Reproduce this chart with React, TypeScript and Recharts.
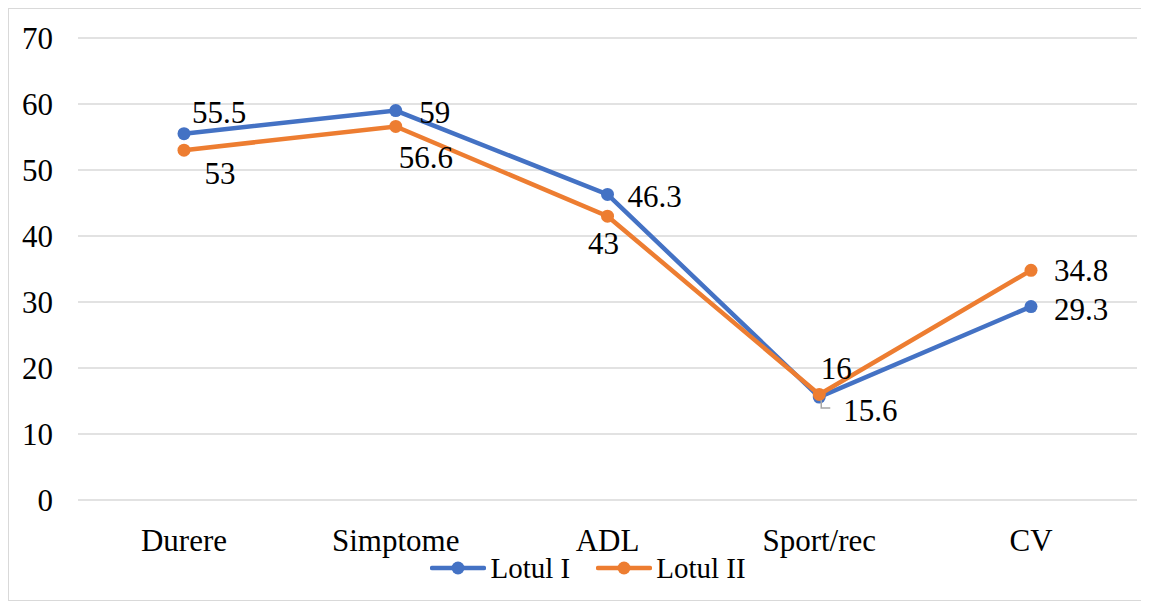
import React from 'react';
import { LineChart, Line, XAxis, YAxis, CartesianGrid, Legend, LabelList } from 'recharts';

const categories = ['Durere', 'Simptome', 'ADL', 'Sport/rec', 'CV'];
const lotulI = [55.5, 59, 46.3, 15.6, 29.3];
const lotulII = [53, 56.6, 43, 16, 34.8];
const yTicks = [0, 10, 20, 30, 40, 50, 60, 70];

const BLUE = '#4472C4';
const ORANGE = '#ED7D31';
const FONT = '"Liberation Serif", "Times New Roman", serif';
const FONT_SIZE = 31;
const LEGEND_SIZE = 29;

const data = categories.map((name, i) => ({ name, lot1: lotulI[i], lot2: lotulII[i] }));

// label centre offsets from each point, per category
const offsetsI = [
  { dx: 35, dy: -21 },
  { dx: 39, dy: 2 },
  { dx: 47, dy: 2 },
  { dx: 51, dy: 13, leader: true },
  { dx: 50, dy: 3 },
];
const offsetsII = [
  { dx: 36, dy: 23 },
  { dx: 30, dy: 31 },
  { dx: -4, dy: 27 },
  { dx: 17, dy: -26 },
  { dx: 50, dy: 0 },
];

const makeLabel = (offsets: { dx: number; dy: number; leader?: boolean }[]) => (props: any) => {
  const x = props.x ?? props.viewBox?.x;
  const y = props.y ?? props.viewBox?.y;
  const idx = props.index ?? 0;
  const o = offsets[idx];
  if (x == null || y == null || !o) return null;
  return (
    <g>
      {o.leader && (
        <polyline
          points={`${x + 2},${y + 3} ${x + 2},${y + 11} ${x + 11},${y + 11}`}
          fill="none"
          stroke="#A6A6A6"
          strokeWidth={1.5}
        />
      )}
      <text
        x={x + o.dx}
        y={y + o.dy}
        textAnchor="middle"
        dominantBaseline="central"
        fontFamily={FONT}
        fontSize={FONT_SIZE}
        fill="#000"
      >
        {props.value}
      </text>
    </g>
  );
};

const renderLegend = () => {
  const items = [
    { label: 'Lotul I', color: BLUE },
    { label: 'Lotul II', color: ORANGE },
  ];
  return (
    <div
      style={{ display: 'flex', justifyContent: 'center', alignItems: 'center', height: 30, gap: 26, paddingLeft: 30 }}
    >
      {items.map((it) => (
        <div key={it.label} style={{ display: 'flex', alignItems: 'center' }}>
          <svg width={56} height={20} style={{ marginRight: 4 }}>
            <line x1={2} y1={10} x2={54} y2={10} stroke={it.color} strokeWidth={4.5} strokeLinecap="round" />
            <circle cx={28} cy={10} r={6.5} fill={it.color} />
          </svg>
          <span style={{ fontFamily: FONT, fontSize: LEGEND_SIZE, color: '#000', lineHeight: '30px' }}>
            {it.label}
          </span>
        </div>
      ))}
    </div>
  );
};

export default function App() {
  return (
    <div style={{ width: 1139, height: 591, border: '1px solid #D9D9D9', background: '#fff' }}>
      <LineChart width={1139} height={591} data={data} margin={{ top: 29, right: 11, left: 0, bottom: 17 }}>
        <CartesianGrid vertical={false} stroke="#D9D9D9" strokeWidth={1.5} />
        <XAxis
          dataKey="name"
          axisLine={false}
          tickLine={false}
          height={53}
          tickSize={6}
          tickMargin={23}
          padding={{ left: 106, right: 106 }}
          tick={{ fontFamily: FONT, fontSize: FONT_SIZE, fill: '#000' }}
          interval={0}
        />
        <YAxis
          domain={[0, 70]}
          ticks={yTicks}
          width={69}
          axisLine={false}
          tickLine={false}
          tickSize={6}
          tickMargin={19}
          tick={{ fontFamily: FONT, fontSize: FONT_SIZE, fill: '#000' }}
          interval={0}
        />
        <Legend verticalAlign="bottom" content={renderLegend} />
        <Line
          dataKey="lot1"
          name="Lotul I"
          stroke={BLUE}
          strokeWidth={4.5}
          dot={{ r: 6.5, fill: BLUE, stroke: BLUE, strokeWidth: 0 }}
          activeDot={false}
          isAnimationActive={false}
        >
          <LabelList dataKey="lot1" content={makeLabel(offsetsI)} />
        </Line>
        <Line
          dataKey="lot2"
          name="Lotul II"
          stroke={ORANGE}
          strokeWidth={4.5}
          dot={{ r: 6.5, fill: ORANGE, stroke: ORANGE, strokeWidth: 0 }}
          activeDot={false}
          isAnimationActive={false}
        >
          <LabelList dataKey="lot2" content={makeLabel(offsetsII)} />
        </Line>
      </LineChart>
    </div>
  );
}
